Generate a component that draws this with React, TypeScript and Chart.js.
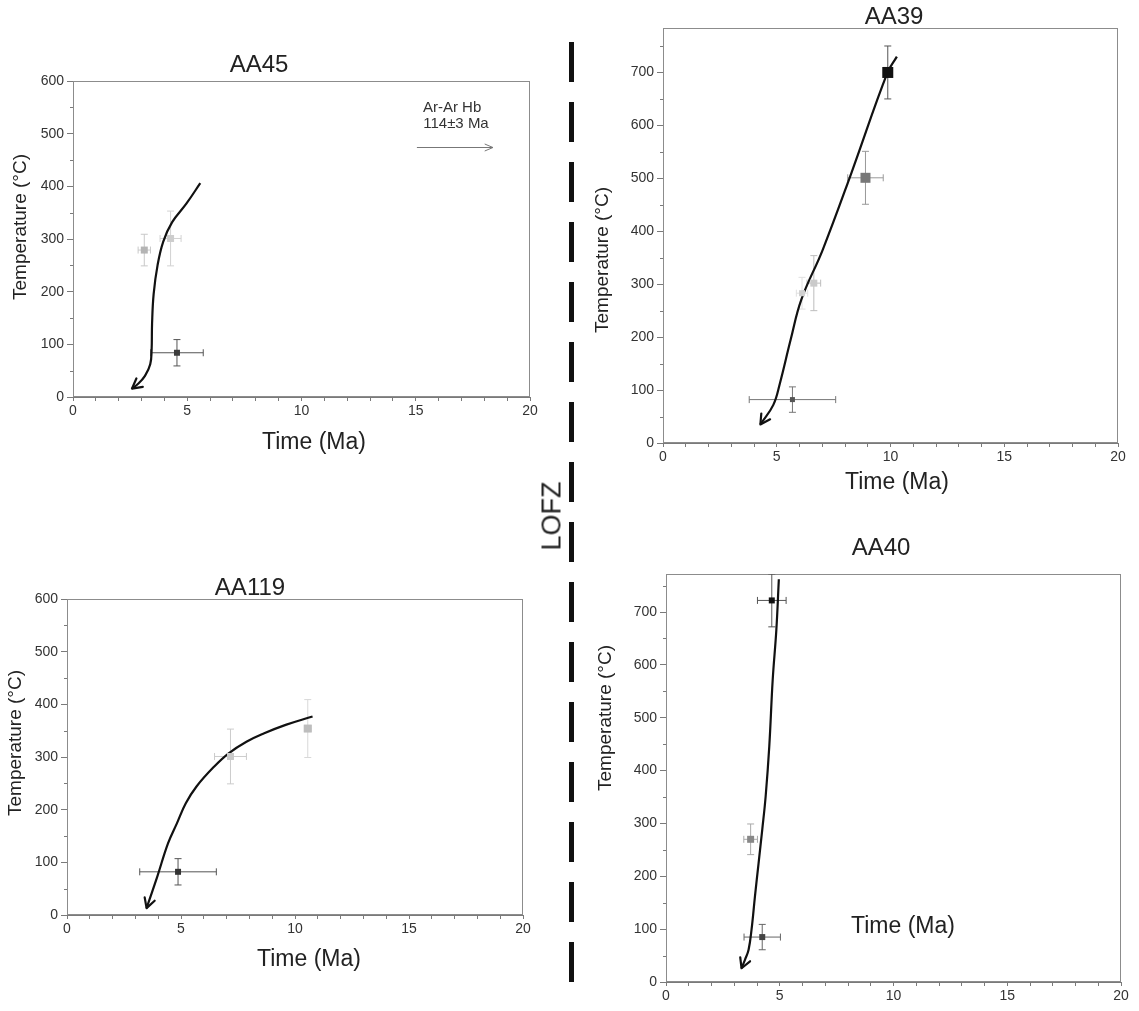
import React, { useEffect, useRef } from "react";
import { Chart, registerables } from "chart.js";

Chart.register(...registerables);

const PAGE_W = 1139;
const PAGE_H = 1011;
const FONT = "'Liberation Sans', Arial, Helvetica, sans-serif";
const Y_AXIS_W = 40;
const X_AXIS_H = 30;
const AXIS = "#7a7a7a";
const FRAME = "#8c8c8c";
const TEXT = "#222";

// ---- shared axis values ----
const timeMin = 0;
const timeMax = 20;
const timeStep = 1;
const timeLabelEvery = 5;
const tempStep = 100;
const tempMinorOffset = 50;
const xAxisTitle = "Time (Ma)";
const yAxisTitle = "Temperature (°C)";
const faultLabel = "LOFZ";

// ---- AA45 ----
const aa45Title = "AA45";
const aa45TempMax = 600;
const aa45Time = [3.12, 4.27, 4.55];
const aa45Temp = [279, 301, 84];
const aa45TimeErr = [0.27, 0.46, 1.15];
const aa45TempErr = [30, 52, 25];
const aa45PathTime = [5.57, 4.96, 4.34, 3.95, 3.7, 3.53, 3.46, 3.44, 3.38, 3.15, 2.85, 2.58];
const aa45PathTemp = [406, 367, 332, 295, 250, 196, 139, 89, 62, 40, 25, 16];
const aa45NoteLines = ["Ar-Ar Hb", "114±3 Ma"];
const aa45NoteArrowTime = [15.05, 18.38];
const aa45NoteArrowTemp = [475, 475];

// ---- AA39 ----
const aa39Title = "AA39";
const aa39TempMax = 784;
const aa39Time = [9.88, 8.9, 6.11, 6.63, 5.69];
const aa39Temp = [700, 501, 283, 302, 82];
const aa39TimeErr = [0, 0.78, 0.25, 0.3, 1.9];
const aa39TempErr = [50, 50, 30, 52, 24];
const aa39PathTime = [10.28, 9.87, 8.28, 7.02, 6.08, 5.61, 5.14, 4.85, 4.28];
const aa39PathTemp = [730, 700, 510, 365, 271, 195, 113, 72, 35];

// ---- AA119 ----
const aa119Title = "AA119";
const aa119TempMax = 600;
const aa119Time = [4.87, 7.17, 10.56];
const aa119Temp = [82, 301, 354];
const aa119TimeErr = [1.68, 0.7, 0.15];
const aa119TempErr = [25, 52, 55];
const aa119PathTime = [10.77, 9.59, 8.65, 7.87, 7.09, 6.46, 5.68, 5.21, 4.82, 4.43, 3.96, 3.49];
const aa119PathTemp = [377, 361, 345, 329, 307, 282, 244, 212, 174, 136, 73, 13];

// ---- AA40 ----
const aa40Title = "AA40";
const aa40TempMax = 772;
const aa40Time = [4.65, 3.72, 4.23];
const aa40Temp = [722, 270, 85];
const aa40TimeErr = [0.63, 0.3, 0.8];
const aa40TempErr = [50, 29, 24];
const aa40PathTime = [4.96, 4.85, 4.69, 4.54, 4.38, 4.23, 4.07, 3.91, 3.76, 3.63, 3.47, 3.32];
const aa40PathTemp = [762, 666, 572, 446, 351, 288, 225, 162, 99, 61, 42, 26];

type Area = { left: number; top: number; right: number; bottom: number };
type Layout = {
  area: Area;
  title: [number, number];
  xTitle: [number, number];
  yTitle: [number, number];
  markerColor: string[];
  barColor: string[];
  markerSide: number[];
  noteAt?: [number, number][];
};
type Panel = {
  title: string;
  tempMax: number;
  time: number[];
  temp: number[];
  timeErr: number[];
  tempErr: number[];
  pathTime: number[];
  pathTemp: number[];
  layout: Layout;
  noteLines?: string[];
  noteArrowTime?: number[];
  noteArrowTemp?: number[];
};

const panels: Panel[] = [
  {
    title: aa45Title, tempMax: aa45TempMax,
    time: aa45Time, temp: aa45Temp, timeErr: aa45TimeErr, tempErr: aa45TempErr,
    pathTime: aa45PathTime, pathTemp: aa45PathTemp,
    noteLines: aa45NoteLines, noteArrowTime: aa45NoteArrowTime, noteArrowTemp: aa45NoteArrowTemp,
    layout: {
      area: { left: 73, top: 81, right: 530, bottom: 397 },
      title: [259, 65], xTitle: [314, 443], yTitle: [21, 227],
      markerColor: ["#b4b4b4", "#cdcdcd", "#3c3c3c"],
      barColor: ["#c8c8c8", "#d2d2d2", "#555"],
      markerSide: [7, 7, 6],
      noteAt: [[16.59, 549], [16.76, 518]],
    },
  },
  {
    title: aa39Title, tempMax: aa39TempMax,
    time: aa39Time, temp: aa39Temp, timeErr: aa39TimeErr, tempErr: aa39TempErr,
    pathTime: aa39PathTime, pathTemp: aa39PathTemp,
    layout: {
      area: { left: 663, top: 28, right: 1118, bottom: 443 },
      title: [894, 17], xTitle: [897, 483], yTitle: [603, 260],
      markerColor: ["#111", "#777", "#d0d0d0", "#cacaca", "#555"],
      barColor: ["#555", "#999", "#e0e0e0", "#bdbdbd", "#777"],
      markerSide: [11, 10, 6, 7, 5],
    },
  },
  {
    title: aa119Title, tempMax: aa119TempMax,
    time: aa119Time, temp: aa119Temp, timeErr: aa119TimeErr, tempErr: aa119TempErr,
    pathTime: aa119PathTime, pathTemp: aa119PathTemp,
    layout: {
      area: { left: 67, top: 599, right: 523, bottom: 915 },
      title: [250, 588], xTitle: [309, 960], yTitle: [16, 743],
      markerColor: ["#333", "#c8c8c8", "#bdbdbd"],
      barColor: ["#555", "#cccccc", "#d8d8d8"],
      markerSide: [6, 7, 8],
    },
  },
  {
    title: aa40Title, tempMax: aa40TempMax,
    time: aa40Time, temp: aa40Temp, timeErr: aa40TimeErr, tempErr: aa40TempErr,
    pathTime: aa40PathTime, pathTemp: aa40PathTemp,
    layout: {
      area: { left: 666, top: 574, right: 1121, bottom: 982 },
      title: [881, 548], xTitle: [903, 927], yTitle: [606, 718],
      markerColor: ["#111", "#888", "#444"],
      barColor: ["#555", "#aaa", "#666"],
      markerSide: [6, 7, 6],
    },
  },
];

function drawArrowHead(ctx: CanvasRenderingContext2D, x: number, y: number, fx: number, fy: number, len: number, spread: number) {
  const ang = Math.atan2(y - fy, x - fx);
  ctx.beginPath();
  ctx.moveTo(x - len * Math.cos(ang - spread), y - len * Math.sin(ang - spread));
  ctx.lineTo(x, y);
  ctx.lineTo(x - len * Math.cos(ang + spread), y - len * Math.sin(ang + spread));
  ctx.stroke();
}

function makeDecor(p: Panel) {
  const L = p.layout;
  return {
    id: "decor",
    beforeDatasetsDraw(chart: any) {
      const { ctx, chartArea: a, scales } = chart;
      const xs = scales.x;
      const ys = scales.y;
      ctx.save();
      // frame
      ctx.strokeStyle = FRAME;
      ctx.lineWidth = 1;
      ctx.strokeRect(Math.round(a.left) + 0.5, Math.round(a.top) + 0.5, Math.round(a.right - a.left) - 1, Math.round(a.bottom - a.top) - 1);
      // minor temperature ticks
      ctx.strokeStyle = AXIS;
      for (let v = tempMinorOffset; v < p.tempMax; v += tempStep) {
        const yp = Math.round(ys.getPixelForValue(v)) + 0.5;
        ctx.beginPath();
        ctx.moveTo(a.left - 3, yp);
        ctx.lineTo(a.left, yp);
        ctx.stroke();
      }
      // error bars
      ctx.beginPath();
      ctx.rect(a.left, a.top, a.right - a.left, a.bottom - a.top);
      ctx.clip();
      ctx.lineWidth = 1;
      p.time.forEach((t, i) => {
        const cx = xs.getPixelForValue(t);
        const cy = ys.getPixelForValue(p.temp[i]);
        ctx.strokeStyle = L.barColor[i];
        const te = p.timeErr[i];
        if (te > 0) {
          const x1 = xs.getPixelForValue(t - te);
          const x2 = xs.getPixelForValue(t + te);
          ctx.beginPath();
          ctx.moveTo(x1, cy); ctx.lineTo(x2, cy);
          ctx.moveTo(x1, cy - 3.5); ctx.lineTo(x1, cy + 3.5);
          ctx.moveTo(x2, cy - 3.5); ctx.lineTo(x2, cy + 3.5);
          ctx.stroke();
        }
        const ye = p.tempErr[i];
        if (ye > 0) {
          const y1 = ys.getPixelForValue(p.temp[i] - ye);
          const y2 = ys.getPixelForValue(p.temp[i] + ye);
          ctx.beginPath();
          ctx.moveTo(cx, y1); ctx.lineTo(cx, y2);
          ctx.moveTo(cx - 3.5, y1); ctx.lineTo(cx + 3.5, y1);
          ctx.moveTo(cx - 3.5, y2); ctx.lineTo(cx + 3.5, y2);
          ctx.stroke();
        }
      });
      ctx.restore();
    },
    afterDatasetsDraw(chart: any) {
      const { ctx } = chart;
      const meta = chart.getDatasetMeta(1);
      const pts = meta.data;
      const n = pts.length;
      if (n < 2) return;
      const last = pts[n - 1];
      const prev = pts[n - 2];
      const useCp = typeof last.cp1x === "number" && Math.hypot(last.x - last.cp1x, last.y - last.cp1y) > 0.5;
      const fx = useCp ? last.cp1x : prev.x;
      const fy = useCp ? last.cp1y : prev.y;
      ctx.save();
      ctx.strokeStyle = "#111";
      ctx.lineWidth = 2.2;
      ctx.lineCap = "round";
      ctx.lineJoin = "round";
      drawArrowHead(ctx, last.x, last.y, fx, fy, 11, 0.5);
      ctx.restore();
    },
    afterDraw(chart: any) {
      const { ctx, scales } = chart;
      const xs = scales.x;
      const ys = scales.y;
      ctx.save();
      ctx.fillStyle = TEXT;
      ctx.textAlign = "center";
      ctx.textBaseline = "middle";
      ctx.font = `24px ${FONT}`;
      ctx.fillText(p.title, L.title[0], L.title[1]);
      ctx.font = `23px ${FONT}`;
      ctx.fillText(xAxisTitle, L.xTitle[0], L.xTitle[1]);
      ctx.save();
      ctx.translate(L.yTitle[0], L.yTitle[1]);
      ctx.rotate(-Math.PI / 2);
      ctx.font = `19px ${FONT}`;
      ctx.fillText(yAxisTitle, 0, 0);
      ctx.restore();
      if (p.noteLines && L.noteAt && p.noteArrowTime && p.noteArrowTemp) {
        ctx.font = `15px ${FONT}`;
        ctx.fillStyle = "#333";
        p.noteLines.forEach((s, i) => {
          ctx.fillText(s, xs.getPixelForValue(L.noteAt![i][0]), ys.getPixelForValue(L.noteAt![i][1]));
        });
        const x1 = xs.getPixelForValue(p.noteArrowTime[0]);
        const x2 = xs.getPixelForValue(p.noteArrowTime[1]);
        const y1 = Math.round(ys.getPixelForValue(p.noteArrowTemp[0])) + 0.5;
        const y2 = Math.round(ys.getPixelForValue(p.noteArrowTemp[1])) + 0.5;
        ctx.strokeStyle = "#777";
        ctx.lineWidth = 1;
        ctx.beginPath();
        ctx.moveTo(x1, y1);
        ctx.lineTo(x2, y2);
        ctx.stroke();
        drawArrowHead(ctx, x2, y2, x1, y1, 9, 0.4);
      }
      ctx.restore();
    },
  };
}

function PanelChart({ panel }: { panel: Panel }) {
  const ref = useRef<HTMLCanvasElement | null>(null);
  useEffect(() => {
    if (!ref.current) return;
    const L = panel.layout;
    const chart = new Chart(ref.current, {
      type: "scatter",
      data: {
        datasets: [
          {
            label: "ages",
            data: panel.time.map((t, i) => ({ x: t, y: panel.temp[i] })),
            pointStyle: "rect",
            pointRadius: L.markerSide.map((s) => s / Math.SQRT2),
            backgroundColor: L.markerColor,
            borderColor: L.markerColor,
            borderWidth: 0,
            order: 0,
          },
          {
            label: "path",
            data: panel.pathTime.map((t, i) => ({ x: t, y: panel.pathTemp[i] })),
            showLine: true,
            tension: 0.4,
            pointRadius: 0,
            borderColor: "#111",
            borderWidth: 2.2,
            fill: false,
            order: 1,
          },
        ],
      } as any,
      options: {
        responsive: false,
        animation: false,
        events: [],
        layout: {
          padding: {
            left: L.area.left - Y_AXIS_W,
            top: L.area.top,
            right: PAGE_W - L.area.right,
            bottom: PAGE_H - L.area.bottom - X_AXIS_H,
          },
        },
        plugins: {
          legend: { display: false },
          tooltip: { enabled: false },
          title: { display: false },
        },
        scales: {
          x: {
            type: "linear",
            min: timeMin,
            max: timeMax,
            afterFit: (s: any) => { s.height = X_AXIS_H; },
            ticks: {
              stepSize: timeStep,
              autoSkip: false,
              maxRotation: 0,
              padding: 2,
              color: "#333",
              font: { family: FONT, size: 14 },
              callback: (v: any) => (Number(v) % timeLabelEvery === 0 ? String(v) : ""),
            },
            grid: { drawOnChartArea: false, drawTicks: true, tickLength: 4, color: AXIS, lineWidth: 1 },
            border: { display: true, color: AXIS, width: 1 },
          },
          y: {
            type: "linear",
            min: 0,
            max: panel.tempMax,
            afterFit: (s: any) => { s.width = Y_AXIS_W; },
            ticks: {
              stepSize: tempStep,
              includeBounds: false,
              padding: 3,
              color: "#333",
              font: { family: FONT, size: 14 },
              callback: (v: any) => String(v),
            },
            grid: { drawOnChartArea: false, drawTicks: true, tickLength: 6, color: AXIS, lineWidth: 1 },
            border: { display: true, color: AXIS, width: 1 },
          },
        },
      } as any,
      plugins: [makeDecor(panel)],
    });
    return () => chart.destroy();
  }, [panel]);
  return (
    <canvas
      ref={ref}
      width={PAGE_W}
      height={PAGE_H}
      style={{ position: "absolute", left: 0, top: 0, width: PAGE_W, height: PAGE_H }}
    />
  );
}

export default function App() {
  return (
    <div style={{ position: "absolute", left: 0, top: 0, width: PAGE_W, height: PAGE_H, background: "#fff", overflow: "hidden" }}>
      {panels.map((p) => (
        <PanelChart key={p.title} panel={p} />
      ))}
      <div
        style={{
          position: "absolute",
          left: 569,
          top: 42,
          width: 5,
          height: 940,
          background: "repeating-linear-gradient(to bottom, #111 0px, #111 40px, transparent 40px, transparent 60px)",
        }}
      />
      <div
        style={{
          position: "absolute",
          left: 552,
          top: 516,
          transform: "translate(-50%, -50%) rotate(-90deg)",
          font: `27px ${FONT}`,
          color: "#222",
          whiteSpace: "nowrap",
          lineHeight: 1,
        }}
      >
        {faultLabel}
      </div>
    </div>
  );
}
